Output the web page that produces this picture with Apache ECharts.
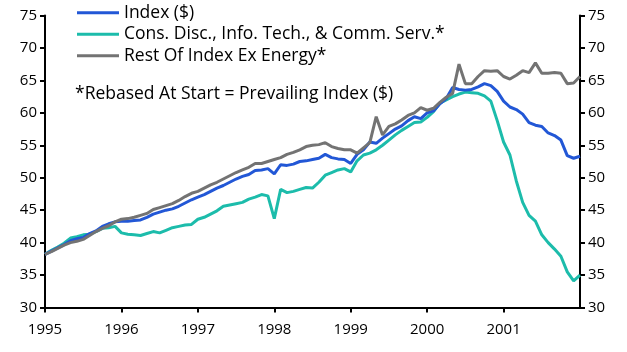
<!DOCTYPE html>
<html>
<head>
<meta charset="utf-8">
<script src="https://cdn.jsdelivr.net/npm/echarts@6/dist/echarts.min.js"></script>
<style>
  html, body { margin: 0; padding: 0; background: #fff; }
  #chart { width: 627px; height: 352px; }
</style>
</head>
<body>
<div id="chart"></div>
<script>
// monthly points, Jan 1995 .. Jan 2002
var startYear = 1995;
var yearLabels = ["1995", "1996", "1997", "1998", "1999", "2000", "2001"];

var indexUsd = [
  38.2, 38.7, 39.2, 39.7, 40.3, 40.6, 40.8, 41.4, 41.8, 42.5, 42.9, 43.2,
  43.3, 43.3, 43.4, 43.5, 43.9, 44.4, 44.7, 45.0, 45.2, 45.6, 46.1, 46.6,
  47.0, 47.4, 47.9, 48.4, 48.8, 49.3, 49.8, 50.2, 50.5, 51.1, 51.2, 51.4,
  50.6, 52.0, 51.9, 52.1, 52.5, 52.6, 52.8, 53.0, 53.6, 53.1, 52.9, 52.8,
  52.2, 53.6, 54.3, 55.5, 55.3, 56.1, 56.8, 57.5, 58.0, 58.8, 59.4, 59.1,
  60.0, 60.3, 61.4, 62.2, 63.9, 63.6, 63.5, 63.6, 64.0, 64.5, 64.2, 63.3,
  61.8, 60.9, 60.5, 59.8, 58.5, 58.1, 57.9, 56.9, 56.5, 55.8, 53.4, 53.0,
  53.3
];

var consTechComm = [
  38.2, 38.8, 39.3, 39.9, 40.7, 40.9, 41.2, 41.3, 41.7, 42.2, 42.3, 42.5,
  41.5, 41.3, 41.2, 41.1, 41.4, 41.7, 41.5, 41.9, 42.3, 42.5, 42.7, 42.8,
  43.6, 43.9, 44.4, 44.9, 45.6, 45.8, 46.0, 46.2, 46.7, 47.0, 47.4, 47.2,
  43.7, 48.2, 47.7, 47.9, 48.2, 48.5, 48.4, 49.3, 50.4, 50.8, 51.2, 51.4,
  50.9, 52.6, 53.5, 53.8, 54.3, 55.0, 55.8, 56.6, 57.3, 57.9, 58.5, 58.6,
  59.3, 60.2, 61.5, 62.0, 62.5, 62.9, 63.2, 63.1, 63.0, 62.6, 61.8, 58.8,
  55.5, 53.5, 49.5, 46.2, 44.2, 43.3, 41.2, 40.0, 39.0, 37.9, 35.5, 34.1,
  35.0
];

var restExEnergy = [
  38.2, 38.6, 39.1, 39.6, 40.0, 40.2, 40.5, 41.1, 41.7, 42.2, 42.6, 43.2,
  43.6, 43.7, 43.9, 44.2, 44.5, 45.1, 45.4, 45.7, 46.0, 46.5, 47.1, 47.6,
  47.9, 48.4, 48.9, 49.3, 49.8, 50.3, 50.8, 51.2, 51.6, 52.2, 52.2, 52.5,
  52.8, 53.1, 53.6, 53.9, 54.3, 54.8, 55.0, 55.1, 55.4, 54.8, 54.5, 54.3,
  54.3, 53.8, 54.6, 55.4, 59.4, 56.6, 57.9, 58.3, 58.9, 59.6, 60.0, 60.8,
  60.4, 60.7, 61.6, 62.4, 63.0, 67.5, 64.5, 64.5, 65.6, 66.5, 66.4, 66.5,
  65.6, 65.2, 65.8, 66.5, 66.2, 67.7, 66.1, 66.1, 66.2, 66.1, 64.5, 64.6,
  65.6
];

var months = [];
for (var i = 0; i < indexUsd.length; i++) {
  months.push(String(startYear + Math.floor(i / 12)) + "-" + (i % 12 + 1));
}

var font = "'Open Sans', 'Noto Sans', sans-serif";
var chart = echarts.init(document.getElementById("chart"));

var yAxisBase = {
  type: "value",
  min: 30,
  max: 75,
  interval: 5,
  splitLine: { show: false },
  axisLine: { show: true, lineStyle: { color: "#000", width: 2 } },
  axisTick: { show: true, length: 5, lineStyle: { color: "#000", width: 2 } },
  axisLabel: { color: "#000", fontSize: 15, fontFamily: font, margin: 8 }
};

var option = {
  backgroundColor: "#fff",
  animation: false,
  grid: { left: 45, right: 47, top: 15.5, bottom: 44.5, containLabel: false },
  legend: {
    orient: "vertical",
    left: 72,
    top: -3,
    icon: "rect",
    itemWidth: 42,
    itemHeight: 3,
    itemGap: 0,
    textStyle: { color: "#000", fontSize: 17.5, lineHeight: 21.5, fontFamily: font },
    data: ["Index ($)", "Cons. Disc., Info. Tech., & Comm. Serv.*", "Rest Of Index Ex Energy*"]
  },
  graphic: [{
    type: "text",
    left: 75,
    top: 85,
    style: { text: "*Rebased At Start = Prevailing Index ($)", fill: "#000", fontSize: 17.5, fontFamily: font }
  }],
  xAxis: {
    type: "category",
    data: months,
    boundaryGap: false,
    axisLine: { lineStyle: { color: "#000", width: 2 } },
    axisTick: {
      length: 5,
      lineStyle: { color: "#000", width: 2 },
      interval: function (i) { return i % 12 === 0 && i < months.length - 1; }
    },
    axisLabel: {
      color: "#000",
      fontSize: 15,
      fontFamily: font,
      margin: 15,
      interval: function (i) { return i % 12 === 0 && i < months.length - 1; },
      formatter: function (v, i) { return yearLabels[i / 12] || ""; }
    }
  },
  yAxis: [
    Object.assign({}, yAxisBase, { position: "left" }),
    Object.assign({}, yAxisBase, { position: "right" })
  ],
  series: [
    {
      name: "Index ($)",
      type: "line",
      data: indexUsd,
      symbol: "none",
      lineStyle: { color: "#2257d6", width: 3 },
      itemStyle: { color: "#2257d6" },
      z: 3
    },
    {
      name: "Cons. Disc., Info. Tech., & Comm. Serv.*",
      type: "line",
      data: consTechComm,
      symbol: "none",
      lineStyle: { color: "#1cbcab", width: 3 },
      itemStyle: { color: "#1cbcab" },
      z: 2
    },
    {
      name: "Rest Of Index Ex Energy*",
      type: "line",
      data: restExEnergy,
      symbol: "none",
      lineStyle: { color: "#737373", width: 3 },
      itemStyle: { color: "#737373" },
      z: 4
    }
  ]
};

chart.setOption(option);
</script>
</body>
</html>
